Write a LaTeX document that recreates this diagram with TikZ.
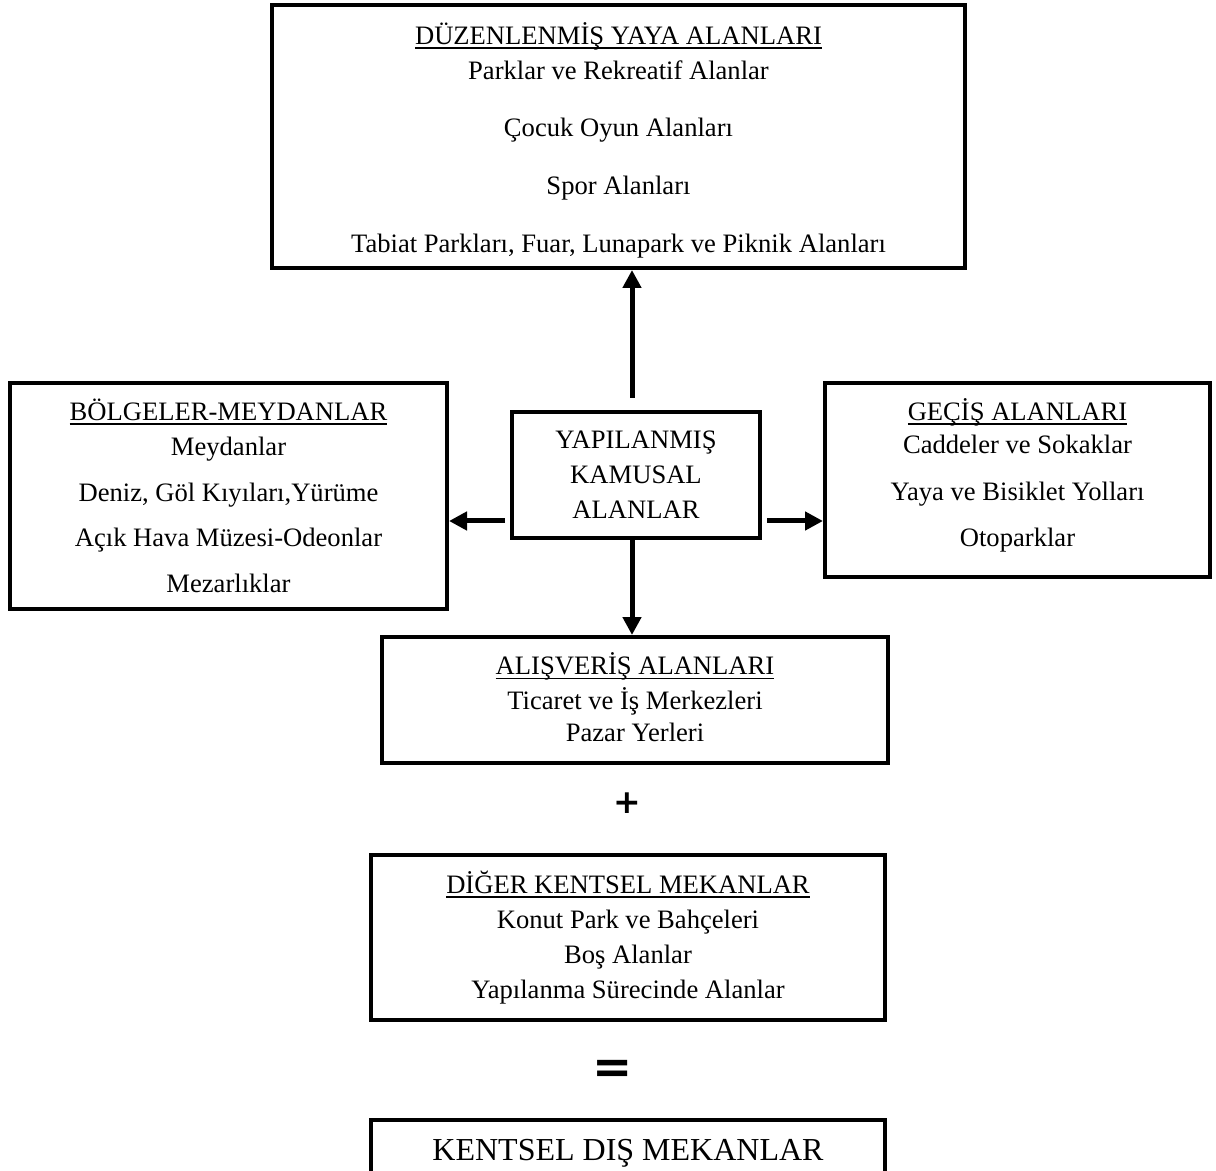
\documentclass[tikz,border=0pt]{standalone}
\usepackage{fontspec}
\setmainfont{Liberation Serif}
\newfontfamily\symfont{DejaVu Sans}
\usetikzlibrary{arrows.meta}
\newsavebox\ulbox
\newcommand{\ulin}[1]{\sbox\ulbox{#1}\rlap{\rule[-2.3pt]{\wd\ulbox}{0.9pt}}\usebox\ulbox}
\newcommand{\nolskip}{\setlength{\lineskiplimit}{-1000pt}}
\tikzset{
  box/.style={draw, line width=2pt, rectangle, align=center, inner sep=0pt,
    font=\fontsize{13.3}{17.5}\selectfont, execute at begin node=\nolskip},
  arr/.style={line width=2.5pt, -{Triangle[length=9pt,width=9pt]}},
  sym/.style={inner sep=0pt, font=\symfont\bfseries}
}
\begin{document}
\begin{tikzpicture}[x=0.5pt,y=-0.5pt]
\useasboundingbox (0,0) rectangle (1216,1171);
\clip (0,0) rectangle (1216,1171);
\fill[white] (0,0) rectangle (1216,1171);

\node[box, minimum width=346.5pt, minimum height=131.5pt] (top) at (618.5,136.5)
  {\vphantom{DÜZENLENMİŞ YAYA ALANLARI}\\[-14pt]
   \ulin{DÜZENLENMİŞ YAYA ALANLARI}\\
   Parklar ve Rekreatif Alanlar\\[11.25pt]
   Çocuk Oyun Alanları\\[11.5pt]
   Spor Alanları\\[11.25pt]
   Tabiat Parkları, Fuar, Lunapark ve Piknik Alanları};

\node[box, minimum width=218.5pt, minimum height=113pt] (left) at (228.5,496)
  {\ulin{BÖLGELER-MEYDANLAR}\\
   Meydanlar\\[5.5pt]
   Deniz, Göl Kıyıları,Yürüme\\[5pt]
   Açık Hava Müzesi-Odeonlar\\[5.5pt]
   Mezarlıklar};

\node[box, minimum width=124pt, minimum height=63pt] (center) at (636,475)
  {YAPILANMIŞ\\KAMUSAL\\ALANLAR};

\node[box, minimum width=192.5pt, minimum height=97pt] (right) at (1017.5,480)
  {\ulin{GEÇİŞ ALANLARI}\\[-1pt]
   Caddeler ve Sokaklar\\[6pt]
   Yaya ve Bisiklet Yolları\\[5.5pt]
   Otoparklar\\[-12.5pt]
   \vphantom{Otoparklar}};

\node[box, minimum width=253pt, minimum height=63pt] (shop) at (635,700)
  {\ulin{ALIŞVERİŞ ALANLARI}\\
   Ticaret ve İş Merkezleri\\[-1.5pt]
   Pazar Yerleri\\[-15pt]
   \vphantom{Pazar Yerleri}};

\node[sym, font=\symfont\bfseries\fontsize{16.5}{16.5}\selectfont] (plus) at (627,803) {+};

\node[box, minimum width=257pt, minimum height=82.5pt] (other) at (628,937.5)
  {\ulin{DİĞER KENTSEL MEKANLAR}\\
   Konut Park ve Bahçeleri\\
   Boş Alanlar\\
   Yapılanma Sürecinde Alanlar};

\node[sym, font=\symfont\bfseries\fontsize{24}{24}\selectfont] (equals) at (613,1072) {=};

\node[box, minimum width=257pt, minimum height=33.5pt, font=\fontsize{16}{19}\selectfont] (final) at (628,1153.5)
  {KENTSEL DIŞ MEKANLAR};

\coordinate (upstart) at ([xshift=-2pt,yshift=6pt]center.north);
\draw[arr] (upstart) -- (upstart |- top.south);
\coordinate (lstart) at ([xshift=-2.5pt,yshift=-23pt]center.west);
\draw[arr] (lstart) -- (lstart -| left.east);
\coordinate (rstart) at ([xshift=2.5pt,yshift=-23pt]center.east);
\draw[arr] (rstart) -- (rstart -| right.west);
\coordinate (dstart) at ([xshift=-2pt]center.south);
\draw[arr] (dstart) -- (dstart |- shop.north);
\end{tikzpicture}
\end{document}
